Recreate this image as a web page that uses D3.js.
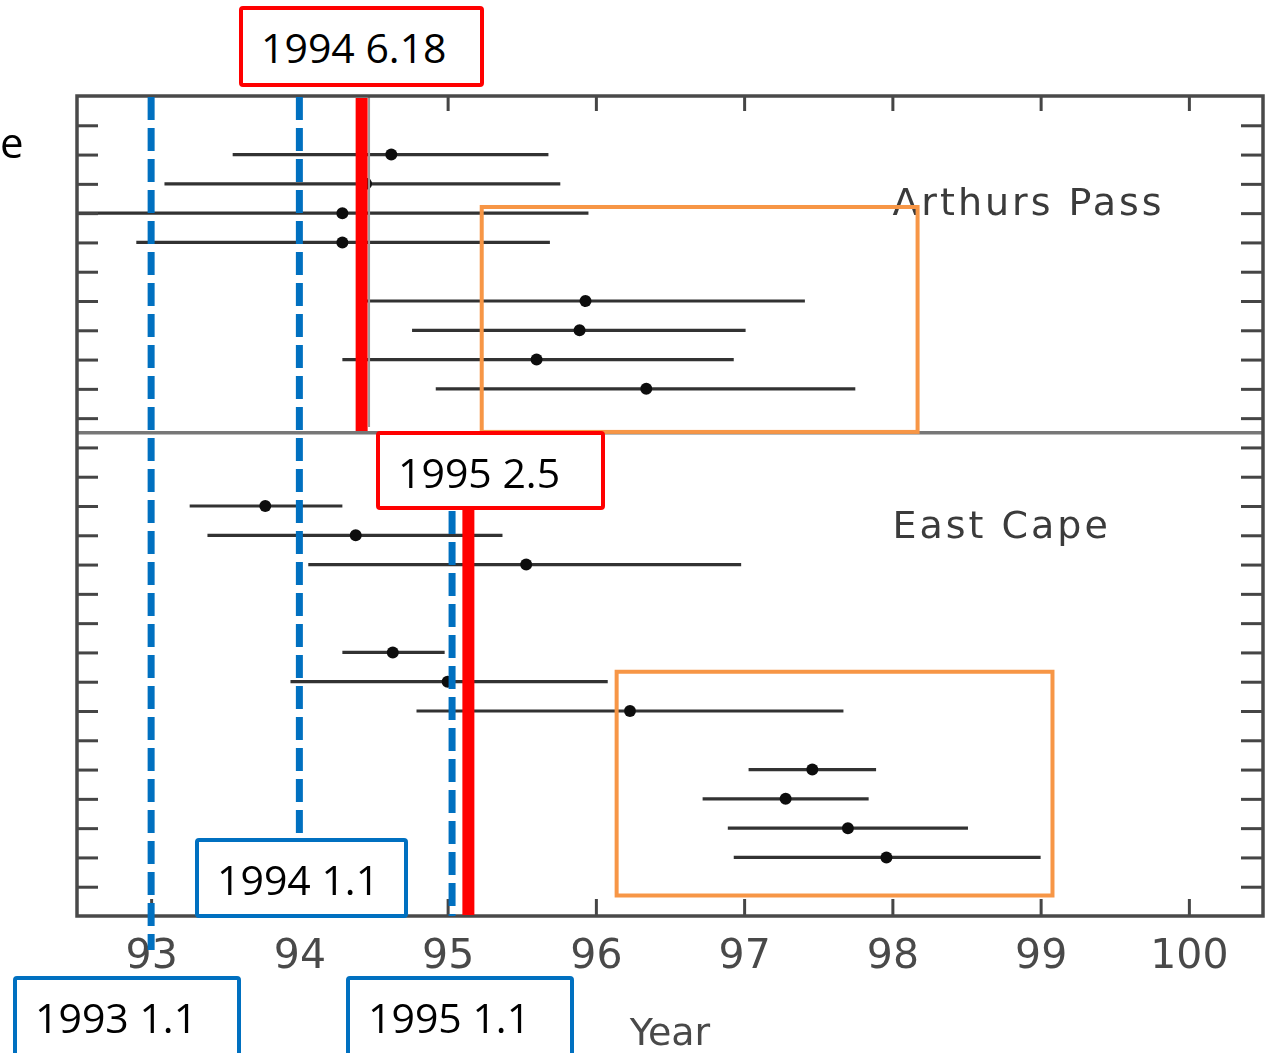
<!DOCTYPE html>
<html>
<head>
<meta charset="utf-8">
<script src="https://cdn.jsdelivr.net/npm/d3@7"></script>
<style>
  body { margin: 0; background: #fff; }
  svg { display: block; }
</style>
</head>
<body>
<svg id="chart" width="1272" height="1053"></svg>
<script>
const width = 1272;
const height = 1053;

// x axis ticks (year - 1900) and row ticks
const yearTicks = [93, 94, 95, 96, 97, 98, 99, 100];
const rowTicks = [1, 2, 3, 4, 5, 6, 7, 8, 9, 10, 11, 12, 13, 14, 15, 16, 17, 18, 19, 20, 21, 22, 23, 24, 25, 26, 27];
const panelNames = ['Arthurs Pass', 'East Cape'];

// Arthurs Pass: row, centre estimate, lower and upper bound
const apRows = [2, 3, 4, 5, 7, 8, 9, 10];
const apMid = [94.62, 94.45, 94.29, 94.29, 95.93, 95.89, 95.60, 96.34];
const apLow = [93.55, 93.09, 92.40, 92.90, 94.45, 94.76, 94.29, 94.92];
const apHigh = [95.68, 95.76, 95.95, 95.69, 97.41, 97.01, 96.93, 97.75];

// East Cape
const ecRows = [14, 15, 16, 19, 20, 21, 23, 24, 25, 26];
const ecMid = [93.77, 94.38, 95.53, 94.63, 95.00, 96.23, 97.46, 97.28, 97.70, 97.96];
const ecLow = [93.26, 93.38, 94.06, 94.29, 93.94, 94.79, 97.03, 96.72, 96.89, 96.93];
const ecHigh = [94.29, 95.37, 96.98, 94.98, 96.08, 97.67, 97.89, 97.84, 98.51, 99.00];

// marked dates (decimal year - 1900)
const blueDates = [93.0, 94.0, 95.03];
const redDates = [94.42, 95.14];
const calloutTexts = ['1994 6.18', '1995 2.5', '1994 1.1', '1993 1.1', '1995 1.1'];

const red = '#ff0000';
const blue = '#0070c0';
const orange = '#f79646';

const svg = d3.select('#chart');

const xScale = d3.scaleLinear().domain([92.5, 100.5]).range([77, 1263]);
const yScale = d3.scaleLinear().domain([0, 28]).range([96, 916]);

const x0 = xScale.range()[0], x1 = xScale.range()[1];
const y0 = yScale.range()[0], y1 = yScale.range()[1];

// slight blur so the base plot looks like the scanned original
const defs = svg.append('defs');
defs.append('filter').attr('id', 'soft')
    .append('feGaussianBlur').attr('stdDeviation', 0.7);
defs.append('clipPath').attr('id', 'plotClip')
    .append('rect').attr('x', x0).attr('y', y0).attr('width', x1 - x0).attr('height', y1 - y0);

const base = svg.append('g').attr('filter', 'url(#soft)');

// error bars
const records = apRows.map((r, i) => ({row: r, mid: apMid[i], lo: apLow[i], hi: apHigh[i]}))
    .concat(ecRows.map((r, i) => ({row: r, mid: ecMid[i], lo: ecLow[i], hi: ecHigh[i]})));

const bars = base.append('g').attr('clip-path', 'url(#plotClip)');
bars.selectAll('line.bar')
    .data(records)
    .enter().append('line')
    .attr('class', 'bar')
    .attr('x1', d => xScale(d.lo))
    .attr('x2', d => xScale(d.hi))
    .attr('y1', d => yScale(d.row))
    .attr('y2', d => yScale(d.row))
    .attr('stroke', '#333')
    .attr('stroke-width', 3.2);

bars.selectAll('circle')
    .data(records)
    .enter().append('circle')
    .attr('cx', d => xScale(d.mid))
    .attr('cy', d => yScale(d.row))
    .attr('r', 6)
    .attr('fill', '#111');

// faint vertical line from the original plot
base.append('line')
    .attr('x1', xScale(94.47)).attr('x2', xScale(94.47))
    .attr('y1', y0).attr('y2', yScale(11.3))
    .attr('stroke', '#999').attr('stroke-width', 2);

// panel divider
base.append('line')
    .attr('x1', x0).attr('x2', x1)
    .attr('y1', yScale(11.5)).attr('y2', yScale(11.5))
    .attr('stroke', '#777').attr('stroke-width', 3.5);

// axes with inward ticks
const tickStyle = g => {
    g.select('.domain').remove();
    g.selectAll('.tick line').attr('stroke', '#444').attr('stroke-width', 3);
};

base.append('g')
    .attr('transform', `translate(0,${y1})`)
    .call(d3.axisBottom(xScale).tickValues(yearTicks).tickSizeInner(-17).tickSizeOuter(0).tickPadding(23))
    .call(tickStyle)
    .call(g => g.selectAll('text')
        .attr('font-family', 'DejaVu Sans')
        .attr('font-size', 41)
        .attr('fill', '#4a4a4a'));

base.append('g')
    .attr('transform', `translate(0,${y0})`)
    .call(d3.axisTop(xScale).tickValues(yearTicks).tickSizeInner(-15).tickSizeOuter(0).tickFormat(''))
    .call(tickStyle);

base.append('g')
    .attr('transform', `translate(${x0},0)`)
    .call(d3.axisLeft(yScale).tickValues(rowTicks).tickSizeInner(-21).tickSizeOuter(0).tickFormat(''))
    .call(tickStyle);

base.append('g')
    .attr('transform', `translate(${x1},0)`)
    .call(d3.axisRight(yScale).tickValues(rowTicks).tickSizeInner(-22).tickSizeOuter(0).tickFormat(''))
    .call(tickStyle);

// frame
base.append('rect')
    .attr('x', x0).attr('y', y0)
    .attr('width', x1 - x0).attr('height', y1 - y0)
    .attr('fill', 'none')
    .attr('stroke', '#4a4a4a')
    .attr('stroke-width', 3.5);

// panel names
base.selectAll('text.panel')
    .data(panelNames)
    .enter().append('text')
    .attr('class', 'panel')
    .attr('x', xScale(98.0))
    .attr('y', (d, i) => i === 0 ? yScale(4.05) : yScale(15.08))
    .attr('font-family', 'DejaVu Sans')
    .attr('font-size', 38)
    .attr('letter-spacing', 3)
    .attr('fill', '#3a3a3a')
    .text(d => d);

base.append('text')
    .attr('x', 670).attr('y', 1045)
    .attr('text-anchor', 'middle')
    .attr('font-family', 'DejaVu Sans')
    .attr('font-size', 38)
    .attr('fill', '#4a4a4a')
    .text('Year');

// label fragment at the left edge
svg.append('text')
    .attr('x', 0).attr('y', 158)
    .attr('font-family', 'Open Sans')
    .attr('font-size', 42)
    .attr('fill', '#000')
    .text('e');

// orange highlight boxes
const boxes = [
    {x: [95.23, 98.17], y: [3.79, 11.47]},
    {x: [96.14, 99.08], y: [19.66, 27.3]}
];
svg.selectAll('rect.hl')
    .data(boxes)
    .enter().append('rect')
    .attr('class', 'hl')
    .attr('x', d => xScale(d.x[0]))
    .attr('y', d => yScale(d.y[0]))
    .attr('width', d => xScale(d.x[1]) - xScale(d.x[0]))
    .attr('height', d => yScale(d.y[1]) - yScale(d.y[0]))
    .attr('fill', 'none')
    .attr('stroke', orange)
    .attr('stroke-width', 4);

// blue dashed date lines
const blueSpans = [[y0, 950], [y0, 838], [510, y1]];
svg.selectAll('line.blue')
    .data(blueDates)
    .enter().append('line')
    .attr('class', 'blue')
    .attr('x1', d => xScale(d)).attr('x2', d => xScale(d))
    .attr('y1', (d, i) => blueSpans[i][0] + 1)
    .attr('y2', (d, i) => blueSpans[i][1])
    .attr('stroke', blue)
    .attr('stroke-width', 7)
    .attr('stroke-dasharray', '23 8');

// red date lines
const redSpans = [[y0 + 2, 431], [510, y1 - 1]];
svg.selectAll('line.red')
    .data(redDates)
    .enter().append('line')
    .attr('class', 'red')
    .attr('x1', d => xScale(d)).attr('x2', d => xScale(d))
    .attr('y1', (d, i) => redSpans[i][0])
    .attr('y2', (d, i) => redSpans[i][1])
    .attr('stroke', red)
    .attr('stroke-width', 12);

// callout boxes
const calloutBoxes = [
    {x: 241, y: 8, w: 241, h: 77, c: red},
    {x: 378, y: 433, w: 225, h: 75, c: red},
    {x: 197, y: 840, w: 209, h: 76, c: blue},
    {x: 15, y: 978, w: 224, h: 80, c: blue},
    {x: 348, y: 978, w: 224, h: 80, c: blue}
];
const callouts = svg.selectAll('g.callout')
    .data(calloutTexts)
    .enter().append('g')
    .attr('class', 'callout')
    .attr('transform', (d, i) => `translate(${calloutBoxes[i].x},${calloutBoxes[i].y})`);

callouts.append('rect')
    .attr('width', (d, i) => calloutBoxes[i].w)
    .attr('height', (d, i) => calloutBoxes[i].h)
    .attr('fill', '#fff')
    .attr('stroke', (d, i) => calloutBoxes[i].c)
    .attr('stroke-width', 4)
    .attr('rx', 2);

callouts.append('text')
    .attr('x', 20)
    .attr('y', 55)
    .attr('font-family', 'Open Sans')
    .attr('font-size', 41)
    .attr('fill', '#000')
    .text(d => d);
</script>
</body>
</html>
